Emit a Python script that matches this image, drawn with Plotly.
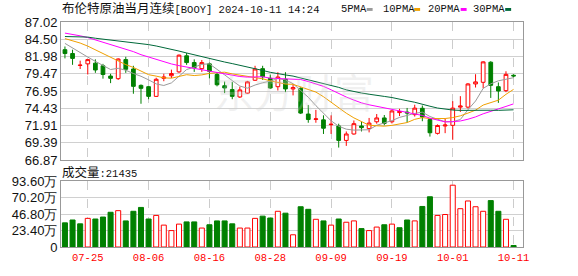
import pandas as pd
import plotly.graph_objects as go

# ---------------- data ----------------
dates = [d.strftime("%Y-%m-%d") for d in pd.bdate_range("2024-07-22", "2024-10-11")]
tick_dates = ["2024-07-25", "2024-08-06", "2024-08-16", "2024-08-28",
              "2024-09-09", "2024-09-19", "2024-10-01", "2024-10-11"]
tick_labels = ["07-25", "08-06", "08-16", "08-28", "09-09", "09-19", "10-01", "10-11"]

opens = [82.98, 82.42, 80.68, 80.91, 81.01, 80.63, 79.13, 78.75, 81.53, 80.16,
         77.77, 77.58, 76.17, 78.80, 79.18, 79.74, 82.09, 81.10, 80.21, 80.91,
         79.36, 77.72, 77.16, 76.08, 76.64, 78.52, 80.21, 78.80, 77.58, 78.66,
         77.25, 77.34, 73.59, 72.81, 72.74, 72.04, 71.85, 69.74, 70.68, 71.85,
         71.47, 72.46, 73.02, 72.46, 73.80, 73.87, 73.50, 74.43, 72.78, 70.77,
         71.85, 71.94, 74.60, 74.60, 77.98, 78.22, 81.15, 77.58, 77.00, 79.25]
highs = [83.45, 82.98, 81.38, 81.62, 81.57, 80.91, 79.46, 81.71, 81.95, 80.63,
         77.91, 77.72, 78.89, 79.46, 80.07, 82.28, 82.51, 81.57, 81.48, 81.10,
         79.69, 78.33, 78.29, 77.58, 78.43, 80.63, 80.63, 79.36, 79.69, 79.69,
         77.91, 77.49, 74.90, 74.20, 73.40, 73.40, 72.18, 71.05, 72.65, 72.46,
         73.02, 73.59, 73.45, 74.20, 74.35, 74.48, 74.95, 74.83, 72.85, 72.08,
         72.90, 75.47, 76.20, 78.10, 79.40, 81.29, 81.30, 78.20, 79.83, 79.40]
lows = [81.71, 80.77, 80.16, 79.36, 79.60, 78.75, 78.10, 78.57, 79.60, 76.55,
        75.09, 75.75, 76.08, 78.38, 78.85, 79.60, 80.77, 79.74, 79.74, 78.80,
        77.63, 76.64, 75.75, 75.94, 76.55, 78.43, 78.57, 77.25, 77.02, 76.78,
        76.31, 73.59, 72.32, 72.32, 70.68, 70.68, 68.70, 68.94, 70.58, 71.05,
        70.91, 72.18, 71.95, 72.22, 73.30, 72.35, 73.22, 72.54, 70.30, 70.60,
        70.80, 69.83, 73.90, 74.40, 77.46, 77.35, 75.94, 75.22, 76.78, 78.95]
closes = [82.42, 81.71, 80.72, 81.53, 80.02, 79.36, 78.80, 81.62, 80.12, 77.63,
          77.34, 76.17, 78.66, 78.99, 79.50, 82.18, 81.10, 80.35, 81.10, 79.83,
          77.86, 77.39, 76.17, 77.11, 78.29, 80.16, 79.04, 77.39, 78.99, 77.25,
          77.44, 73.73, 72.79, 72.88, 71.52, 72.10, 69.74, 70.68, 72.18, 71.61,
          72.27, 73.02, 72.22, 74.04, 73.95, 73.75, 74.45, 73.15, 70.86, 71.92,
          71.98, 74.45, 74.75, 77.98, 78.28, 81.20, 77.78, 76.95, 79.38, 79.15]

# volume (contracts); colour by close vs previous close
volumes = [344000, 385000, 330000, 408000, 399000, 427000, 495000, 518000, 372000, 509000,
           564000, 399000, 450000, 312000, 234000, 326000, 358000, 358000, 270000, 317000,
           372000, 372000, 330000, 270000, 270000, 408000, 440000, 413000, 509000, 482000,
           174000, 574000, 537000, 395000, 372000, 312000, 399000, 353000, 372000, 262000,
           234000, 284000, 317000, 326000, 275000, 385000, 372000, 578000, 716000, 450000,
           463000, 881000, 546000, 656000, 574000, 509000, 661000, 509000, 395000, 21435]
vol_up = [0, 0, 0, 1, 0, 0, 0, 1, 0, 0,
          0, 0, 1, 1, 1, 1, 0, 0, 1, 0,
          0, 0, 0, 1, 1, 1, 0, 0, 1, 0,
          1, 0, 0, 1, 0, 1, 0, 1, 1, 0,
          1, 1, 0, 1, 0, 0, 1, 0, 0, 1,
          1, 1, 1, 1, 1, 1, 0, 0, 1, 0]

# moving-average values for bars before the window fills
ma5_head = [83.90, 83.20, 82.50, 81.90]
ma10_head = [84.60, 84.30, 83.95, 83.50, 82.95, 82.40, 81.85, 81.30, 80.80]
ma20_head = [85.40, 85.25, 85.00, 84.75, 84.40, 84.05, 83.75, 83.45, 83.10, 82.70,
             82.25, 81.90, 81.50, 81.20, 80.90, 80.65, 80.45, 80.30, 80.15]
ma30_head = [84.90, 84.88, 84.86, 84.82, 84.65, 84.52, 84.40, 84.28, 84.15, 84.02,
             83.88, 83.72, 83.52, 83.30, 83.05, 82.78, 82.50, 82.22, 81.95, 81.68,
             81.42, 81.18, 80.95, 80.72, 80.48, 80.22, 79.95, 79.68, 79.45]

y_ticks = [66.87, 69.39, 71.91, 74.43, 76.95, 79.47, 81.98, 84.50, 87.02]
vol_ticks = [0, 234000, 468000, 702000, 936000]
vol_tick_labels = ["0", "23.40万", "46.80万", "70.20万", "93.60万"]


def moving_average(head, n):
    s = pd.Series(closes).rolling(n).mean().tolist()
    return head + s[n - 1:]


ma5 = moving_average(ma5_head, 5)
ma10 = moving_average(ma10_head, 10)
ma20 = moving_average(ma20_head, 20)
ma30 = moving_average(ma30_head, 30)

RED = "#ff0000"
GREEN = "#008000"
MA_COLORS = {"5": "#9a9a9a", "10": "#f0a000", "20": "#ff00ff", "30": "#00693a"}

fig = go.Figure()

fig.add_trace(go.Candlestick(
    x=dates, open=opens, high=highs, low=lows, close=closes,
    xaxis="x2", yaxis="y2", whiskerwidth=0,
    increasing=dict(line=dict(color=RED, width=1), fillcolor="#ffffff"),
    decreasing=dict(line=dict(color=GREEN, width=1), fillcolor=GREEN),
    showlegend=False, hoverinfo="skip",
))

for key, vals in (("5", ma5), ("10", ma10), ("20", ma20), ("30", ma30)):
    fig.add_trace(go.Scatter(
        x=dates, y=vals, mode="lines", xaxis="x2", yaxis="y2",
        line=dict(color=MA_COLORS[key], width=1), showlegend=False, hoverinfo="skip",
    ))

fig.add_trace(go.Bar(
    x=dates, y=volumes, xaxis="x", yaxis="y", width=0.66,
    marker=dict(color=["#ffffff" if u else GREEN for u in vol_up],
                line=dict(color=[RED if u else GREEN for u in vol_up], width=1)),
    showlegend=False, hoverinfo="skip",
))

W, H = 578, 276
L, R, T, B = 56, 55, 22, 21
PW, PH = W - L - R, H - T - B


def px(x):
    return (x - L) / PW


def py(y):
    return (H - B - y) / PH


xcommon = dict(
    type="category", range=[-0.52, 60.24], tickvals=tick_dates,
    showgrid=True, gridcolor="#cccccc", griddash="dash", gridwidth=1,
    showline=True, mirror=True, linecolor="#999999", linewidth=1, ticks="",
    zeroline=False, rangeslider=dict(visible=False), fixedrange=True,
)
ycommon = dict(
    showgrid=True, gridcolor="#d0d0d0", gridwidth=1, showline=True, mirror=True,
    linecolor="#999999", linewidth=1, ticks="", zeroline=False,
    tickfont=dict(family="Liberation Sans, Arial", size=13, color="#111111"),
)

red_ticktext = [f"<span style='color:{RED}'>{t}</span>" for t in tick_labels]

fig.update_layout(
    width=W, height=H, autosize=False,
    margin=dict(l=L, r=R, t=T, b=B, pad=0),
    paper_bgcolor="#ffffff", plot_bgcolor="#ffffff",
    xaxis=dict(xcommon, anchor="y", ticktext=red_ticktext,
               tickfont=dict(family="Liberation Mono, monospace", size=10.5, color=RED)),
    xaxis2=dict(xcommon, anchor="y2", ticktext=tick_labels, showticklabels=False),
    yaxis=dict(ycommon, domain=[0, py(187)], range=[0, 936000],
               tickvals=vol_ticks, ticktext=vol_tick_labels),
    yaxis2=dict(ycommon, domain=[py(165), 1], range=[66.87, 87.02],
                tickvals=y_ticks, ticktext=[f"{v:.2f}" for v in y_ticks]),
    bargap=0.3,
)

annotations = [
    dict(text="<span style='font-size:12.5px'>布伦特原油当月连续</span>[BOOY] 2024-10-11 14:24",
         x=px(56), y=py(9), xanchor="left", yanchor="middle",
         font=dict(family="Liberation Mono, Noto Sans CJK SC", size=10.5, color="#111111")),
    dict(text="<span style='font-size:12.5px'>成交量</span>:21435",
         x=px(56), y=py(178), xanchor="left", yanchor="middle",
         font=dict(family="Liberation Mono, Noto Sans CJK SC", size=10.5, color="#111111")),
    dict(text="东方财富", x=px(292), y=py(93), xanchor="center", yanchor="middle",
         font=dict(family="Noto Sans CJK SC", size=40, color="rgba(205,205,205,0.28)")),
]
legend_items = [("5PMA", 338, 365, "5"), ("10PMA", 380, 413, "10"),
                ("20PMA", 426, 460, "20"), ("30PMA", 471.5, 505, "30")]
shapes = []
for label, tx, sx, key in legend_items:
    annotations.append(dict(text=label, x=px(tx), y=py(9), xanchor="left", yanchor="middle",
                            font=dict(family="Liberation Mono, monospace", size=10.5, color="#111111")))
    shapes.append(dict(type="rect", xref="paper", yref="paper",
                       x0=px(sx), x1=px(sx + 6), y0=py(10.5), y1=py(7.5),
                       fillcolor=MA_COLORS[key], line=dict(width=0)))

for a in annotations:
    a.update(xref="paper", yref="paper", showarrow=False, borderpad=0)

fig.update_layout(annotations=annotations, shapes=shapes)

fig.write_html("out.html")
